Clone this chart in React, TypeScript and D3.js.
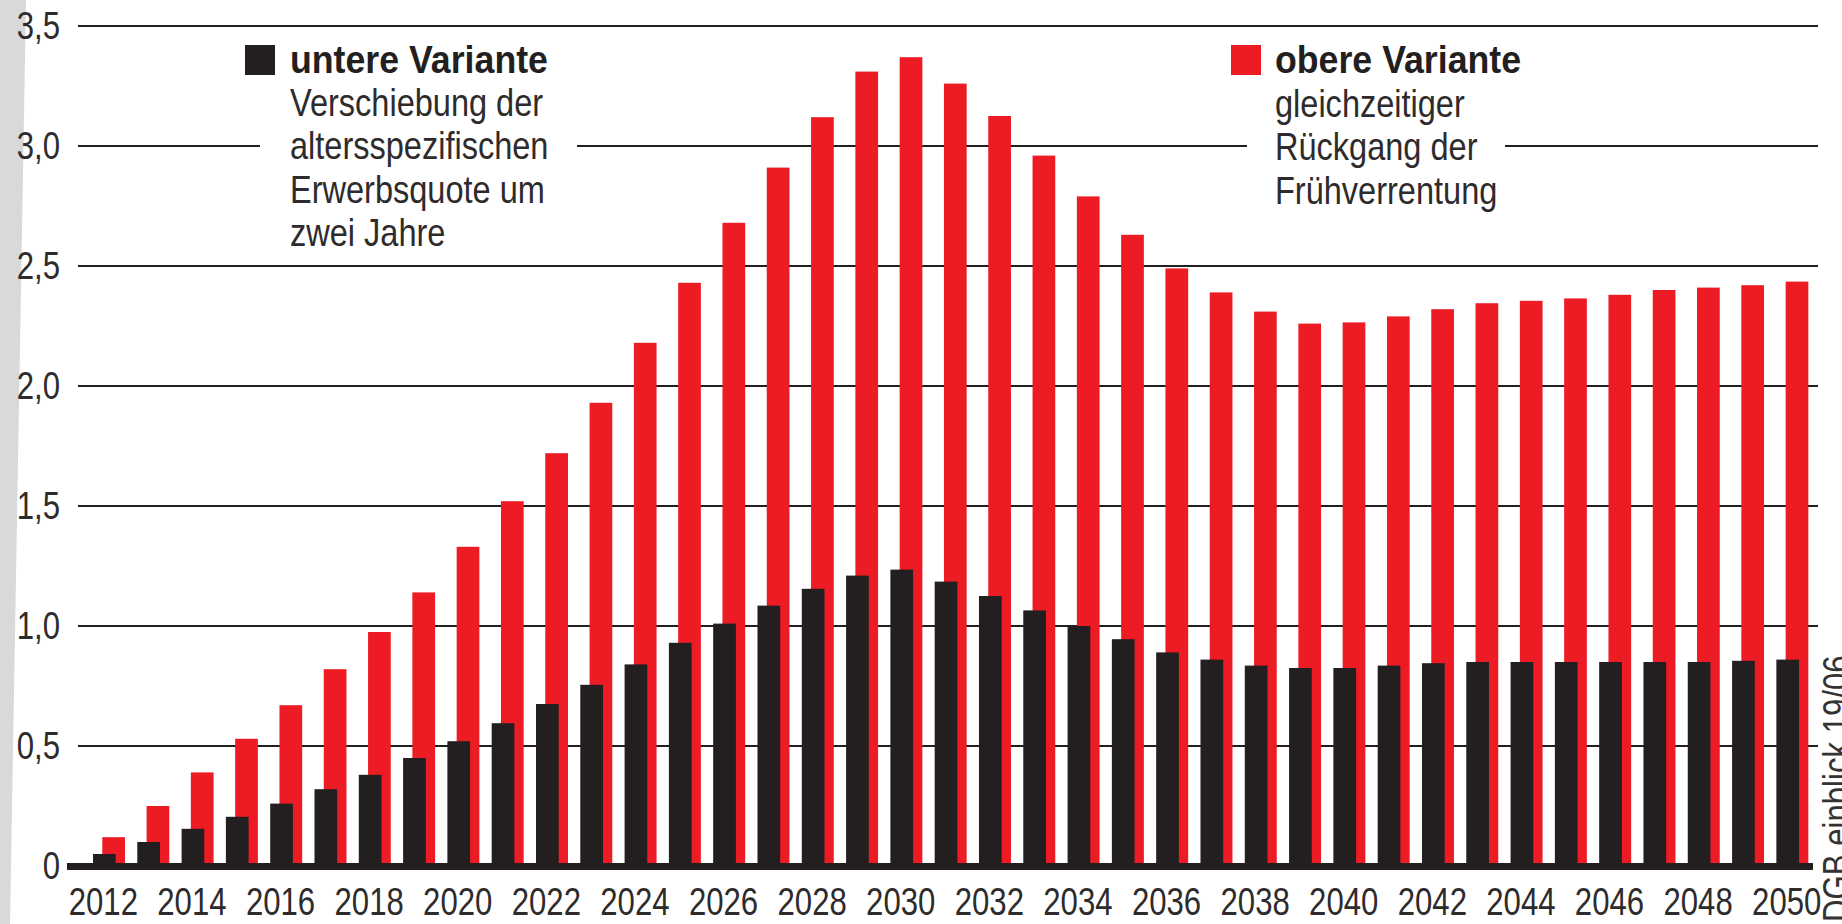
import { scaleBand, scaleLinear } from 'd3';

// Jahre und Werte (Mio. Erwerbspersonen)
const years = [
  2012, 2013, 2014, 2015, 2016, 2017, 2018, 2019, 2020, 2021, 2022, 2023, 2024,
  2025, 2026, 2027, 2028, 2029, 2030, 2031, 2032, 2033, 2034, 2035, 2036, 2037,
  2038, 2039, 2040, 2041, 2042, 2043, 2044, 2045, 2046, 2047, 2048, 2049, 2050,
];

// obere Variante (rot)
const upper = [
  0.12, 0.25, 0.39, 0.53, 0.67, 0.82, 0.975, 1.14, 1.33, 1.52, 1.72, 1.93, 2.18,
  2.43, 2.68, 2.91, 3.12, 3.31, 3.37, 3.26, 3.125, 2.96, 2.79, 2.63, 2.49, 2.39,
  2.31, 2.26, 2.265, 2.29, 2.32, 2.345, 2.355, 2.365, 2.38, 2.4, 2.41, 2.42, 2.435,
];

// untere Variante (schwarz)
const lower = [
  0.05, 0.1, 0.155, 0.205, 0.26, 0.32, 0.38, 0.45, 0.52, 0.595, 0.675, 0.755, 0.84,
  0.93, 1.01, 1.085, 1.155, 1.21, 1.235, 1.185, 1.125, 1.065, 1.0, 0.945, 0.89, 0.86,
  0.835, 0.825, 0.825, 0.835, 0.845, 0.85, 0.85, 0.85, 0.85, 0.85, 0.85, 0.855, 0.86,
];

const yTicks = [0, 0.5, 1, 1.5, 2, 2.5, 3, 3.5];
const yTickLabels = ['0', '0,5', '1,0', '1,5', '2,0', '2,5', '3,0', '3,5'];
const yearLabels = [
  2012, 2014, 2016, 2018, 2020, 2022, 2024, 2026, 2028, 2030,
  2032, 2034, 2036, 2038, 2040, 2042, 2044, 2046, 2048, 2050,
];

const lowerText = ['Verschiebung der', 'altersspezifischen', 'Erwerbsquote um', 'zwei Jahre'];
const upperText = ['gleichzeitiger', 'Rückgang der', 'Frühverrentung'];

const RED = '#ed1c24';
const DARK = '#231f20';
const TEXT = '#2e2b2c';
const FONT = "'Liberation Sans', Arial, sans-serif";

// condensed text: regular font squeezed horizontally
function NText({ x, y, sx = 0.82, size = 38, anchor = 'start', weight = 'normal', fill = TEXT, rotate = 0, children }: any) {
  return (
    <text
      transform={`translate(${x},${y}) rotate(${rotate}) scale(${sx},1)`}
      textAnchor={anchor}
      fontSize={size}
      fontWeight={weight}
      fill={fill}
    >
      {children}
    </text>
  );
}

function App() {
  const width = 1842;
  const height = 924;

  // one band per year holds black bar + red bar shifted to the right
  const x = scaleBand<number>()
    .domain(years)
    .range([70.85, 1830.5])
    .paddingInner(0.278)
    .paddingOuter(0.5);
  const barW = x.bandwidth() * 0.71;
  const shift = x.bandwidth() - barW;

  const y = scaleLinear().domain([0, 3.5]).range([866, 26]);

  const lineH = 43.3;

  return (
    <svg
      width={width}
      height={height}
      style={{ position: 'absolute', left: 0, top: 0, display: 'block', background: '#fff' }}
      fontFamily={FONT}
    >
      <rect x={0} y={0} width={width} height={height} fill="#fff" />
      {/* grauer Randstreifen */}
      <polygon points="0,0 26,0 10,924 0,924" fill="#d8d9db" />

      {/* Gitterlinien */}
      {yTicks.filter(t => t > 0).map(t => (
        <line key={t} x1={78} x2={1818} y1={y(t)} y2={y(t)} stroke={DARK} strokeWidth={2.2} />
      ))}

      {/* Hintergrund der Legenden */}
      <rect x={260} y={34} width={317} height={224} fill="#fff" />
      <rect x={1247} y={34} width={258} height={224} fill="#fff" />

      {/* Balken */}
      {years.map((yr, i) => (
        <g key={yr}>
          <rect x={x(yr)! + shift} y={y(upper[i])} width={barW} height={y(0) - y(upper[i])} fill={RED} />
          <rect x={x(yr)!} y={y(lower[i])} width={barW} height={y(0) - y(lower[i])} fill={DARK} />
        </g>
      ))}

      {/* Nulllinie */}
      <rect x={67} y={863} width={1746} height={7} fill={DARK} />

      {/* y-Achse */}
      {yTicks.map((t, i) => (
        <NText key={t} x={60} y={y(t) + 13} anchor="end">
          {yTickLabels[i]}
        </NText>
      ))}

      {/* x-Achse */}
      {yearLabels.map(yr => (
        <NText key={yr} x={x(yr)! + barW / 2 - 1} y={915} anchor="middle">
          {yr}
        </NText>
      ))}

      {/* Legende links */}
      <rect x={245} y={45} width={30} height={30} fill={DARK} />
      <NText x={290} y={73} size={38} sx={0.94} weight="bold" fill={DARK}>untere Variante</NText>
      {lowerText.map((s, i) => (
        <NText key={s} x={290} y={116 + i * lineH} size={38.5} sx={0.845}>
          {s}
        </NText>
      ))}

      {/* Legende rechts */}
      <rect x={1231} y={45} width={30} height={30} fill={RED} />
      <NText x={1275} y={73} size={38} sx={0.94} weight="bold" fill={DARK}>obere Variante</NText>
      {upperText.map((s, i) => (
        <NText key={s} x={1275} y={117 + i * lineH} size={38.5} sx={0.845}>
          {s}
        </NText>
      ))}

      {/* Quelle */}
      <NText x={1850} y={922} rotate={-90} fill="#333">DGB einblick 19/06</NText>
    </svg>
  );
}

export default App;
